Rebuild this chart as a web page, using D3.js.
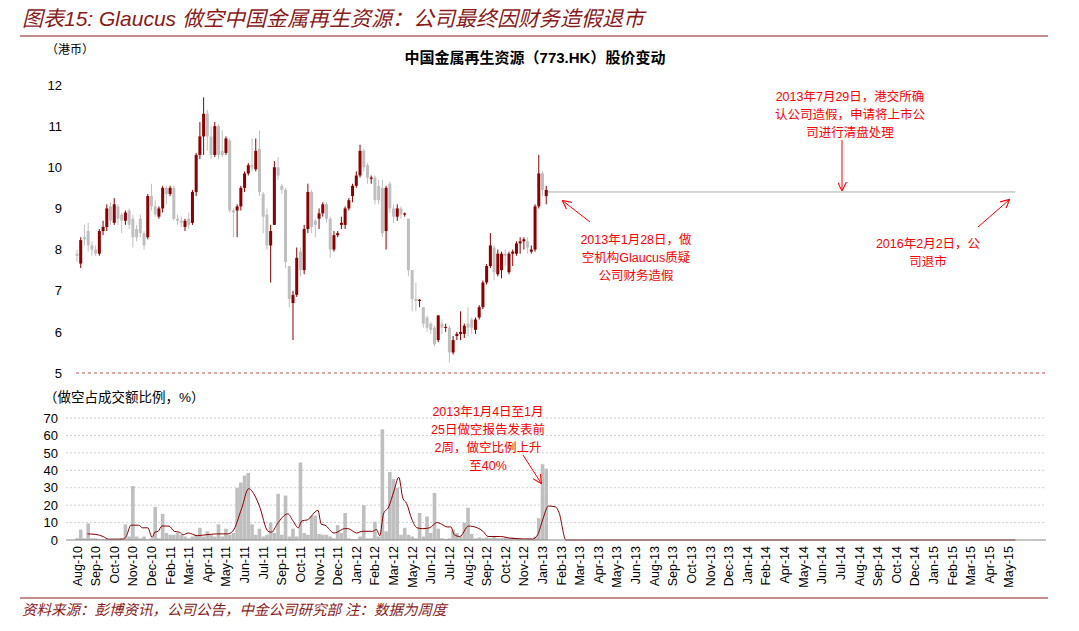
<!DOCTYPE html>
<html><head><meta charset="utf-8">
<script src="https://cdn.jsdelivr.net/npm/d3@7"></script>
<style>body{margin:0;background:#fff}svg{font-family:"Liberation Sans",Arial,"Noto Sans CJK SC",sans-serif}</style>
</head><body><svg id="c" width="1079" height="631"></svg>
<script>
// weekly candles [open, close, high, low], from week of 2010-08-02
const candles = [
[7.9,7.85,8.0,7.7],[7.66,8.23,8.3,7.55],[8.3,8.25,8.6,8.1],[8.45,8.1,8.65,7.95],[8.1,8.0,8.2,7.85],
[8.0,7.9,8.1,7.85],[7.9,8.45,8.5,7.85],[8.45,8.55,8.7,8.35],[8.55,9.0,9.1,8.45],[9.05,8.7,9.15,8.6],
[8.65,9.1,9.25,8.6],[9.05,8.75,9.1,8.6],[8.85,8.7,8.9,8.4],[8.7,8.9,8.95,8.6],[8.95,8.6,9.0,8.5],
[8.75,8.3,8.85,8.05],[8.5,8.3,8.6,8.2],[8.75,8.4,8.85,8.3],[8.4,8.1,8.45,8.0],[8.3,9.3,9.35,8.25],
[9.3,9.05,9.6,8.95],[9.05,8.85,9.2,8.8],[8.8,9.0,9.05,8.75],[9.0,9.5,9.55,8.9],[9.5,9.35,9.55,9.1],
[9.35,9.5,9.55,9.3],[9.5,8.75,9.55,8.7],[8.75,8.7,8.85,8.6],[8.7,8.65,8.8,8.55],[8.55,8.7,8.75,8.45],
[8.75,8.6,8.9,8.5],[8.65,9.4,9.45,8.6],[9.4,10.3,10.35,9.3],[10.3,10.75,11.1,10.2],[10.75,11.3,11.7,10.3],
[11.3,10.75,11.4,10.4],[10.75,10.3,11.0,10.2],[10.3,11.0,11.1,10.25],[11.0,10.3,11.05,10.2],[10.4,10.3,10.9,10.25],
[10.35,10.7,10.75,10.3],[10.65,8.95,10.7,8.9],[8.95,8.9,9.0,8.3],[8.95,9.05,9.1,8.3],[9.05,9.5,9.55,8.95],
[9.5,9.85,9.9,9.4],[9.85,10.05,10.1,9.8],[10.05,10.0,10.7,9.9],[9.95,10.4,10.7,9.9],[10.45,9.4,10.9,9.3],
[9.35,8.8,9.4,8.4],[8.85,8.1,9.0,8.0],[8.1,8.45,8.6,7.2],[8.6,10.0,10.15,8.6],[10.0,9.8,10.25,9.7],
[9.55,9.45,9.6,9.35],[9.45,7.7,9.5,7.55],[7.6,6.8,7.6,6.6],[6.7,6.9,7.0,5.8],[6.9,7.8,8.05,6.85],
[7.95,7.5,8.05,7.35],[7.5,8.5,8.6,7.4],[8.5,9.4,9.6,8.4],[9.4,8.55,9.45,8.4],[8.7,8.6,8.75,8.3],
[8.75,8.88,9.0,8.5],[8.88,9.1,9.15,8.8],[9.1,8.75,9.15,8.65],[8.75,8.0,8.8,7.8],[8.0,8.35,8.45,7.95],
[8.35,8.4,8.45,8.3],[8.6,8.65,8.8,8.5],[8.6,9.0,9.05,8.5],[9.0,9.2,9.25,8.95],[9.3,9.55,9.6,9.15],
[9.55,9.8,9.9,9.5],[9.8,10.4,10.55,9.75],[10.4,10.0,10.45,9.9],[10.05,9.75,10.1,9.6],[9.72,9.75,9.8,9.6],
[9.75,9.2,9.8,9.1],[9.55,9.2,9.7,9.1],[9.5,8.4,9.7,8.3],[8.45,9.5,9.55,8.0],[9.6,9.0,9.65,8.9],
[9.0,8.8,9.1,8.65],[8.8,9.0,9.1,8.7],[9.0,8.85,9.05,8.75],[8.85,8.88,8.9,8.8],[8.75,7.5,8.75,7.35],
[7.5,6.8,7.5,6.5],[6.8,6.75,7.2,6.5],[6.75,6.78,6.8,6.6],[6.6,6.2,6.6,6.1],[6.35,6.1,6.4,6.0],
[6.2,6.05,6.25,5.95],[6.1,5.7,6.15,5.65],[5.8,6.4,6.4,5.75],[6.2,6.1,6.3,5.95],[6.1,6.12,6.2,6.0],
[6.1,5.5,6.15,5.25],[5.5,5.8,5.9,5.45],[5.9,5.95,6.0,5.8],[5.95,6.0,6.5,5.8],[5.95,6.15,6.2,5.85],
[6.2,6.1,6.6,5.9],[6.3,6.1,6.35,5.95],[6.05,6.3,6.35,5.95],[6.35,6.6,6.65,6.3],[6.6,7.2,7.25,6.55],
[7.2,7.6,7.65,7.15],[7.6,8.1,8.4,7.55],[8.05,7.45,8.1,7.25],[7.4,7.9,8.0,7.35],[7.5,7.9,7.95,7.3],
[7.9,7.85,8.0,7.6],[7.45,7.9,7.95,7.4],[7.9,7.95,8.0,7.6],[7.9,8.15,8.2,7.85],[8.15,8.2,8.3,7.9],
[8.2,8.25,8.3,8.0],[8.2,8.05,8.3,7.9],[7.95,8.0,8.1,7.9],[8.0,9.05,9.1,7.95],[9.05,9.85,10.3,9.0],
[9.85,9.45,9.9,9.3],[9.3,9.45,9.55,9.1]
];
// suspended price line after last trade (week index range, price)
const suspendWeeks = [126, 252];
const suspendPrice = 9.4;

// short share of turnover, %, weekly
const shortPct = [1,6,1,9.5,1,1,0.5,0.5,0.5,0.5,0.5,0.5,1,9,2,31,2,1,2,0.5,1,19,1,15,4,3,3,4,3,2,
1,2,3,7,2,5,3,2,9,2,6.5,3,4,30,33,37,38.5,9,3,6.5,2,3,10,4,26.5,3,25.5,2,6.5,2,44.5,4,3,14,14,3.5,3,3,2,1,
8.5,4,15.5,1,0.5,0.5,2,20,1,1,10.5,2,63.5,5,39,35,30,3,7,3,2,1,15.5,2,13.5,4,27,6.5,1,0.5,1,6,4,2,10,18.5,
3.5,1,1.5,1,1.5,1,2,1,1,1.5,1,1.5,1,1,0.5,1,1,2,12.5,43.5,41];
// smoothed short ratio line: [week, %]
const shortLine = [[2.8,3.5],[5.1,3.2],[7,2],[8.5,0.5],[12.3,0.5],[13.2,2],[14.5,8.5],[16.6,8.5],[17.5,7],[19,7],
[20.2,1.5],[20.9,4.5],[21.8,5],[22.8,8],[24.7,8],[26.1,5],[27.5,4.5],[28.5,3],[29.9,4],[32.3,2.5],[34.7,3],
[37.5,3.5],[40.4,3.5],[41.8,5],[44.2,18],[46.1,29.5],[47,28],[48.9,20],[51.3,5],[52.3,4.5],[53.7,9],[56.6,15],
[58,11],[59.4,7],[60.4,11],[61.8,11.5],[64.7,17],[65.6,9],[66.6,8.5],[69,4],[69.9,4.5],[71.8,6.5],[72.8,6.5],
[75.1,4],[76.6,5],[79.4,5],[80.4,6],[81.3,2.5],[82.3,15],[83.7,19],[85.1,28],[86.4,36],[87.5,24],[88.5,21],
[89.9,12],[91.3,7],[92.8,6.5],[94.7,7],[96.6,10],[97.5,9.5],[99.4,7.5],[100.4,7.5],[101.3,3],[102.8,2],
[105.1,8],[107.5,7],[109,5],[110.4,2],[113.7,2],[116.6,1],[122.3,0.5],[123.7,3],[125.1,12],[126.6,19.5],
[128.5,19],[129.4,16],[131.3,0],[252,0]];

// category labels, one every 5 weeks
const tickLabels = ['Aug-10','Sep-10','Oct-10','Nov-10','Dec-10','Feb-11','Mar-11','Apr-11','May-11','Jun-11',
'Jul-11','Sep-11','Oct-11','Nov-11','Dec-11','Jan-12','Feb-12','Mar-12','May-12','Jun-12','Jul-12','Aug-12',
'Sep-12','Oct-12','Nov-12','Jan-13','Feb-13','Mar-13','Apr-13','May-13','Jun-13','Aug-13','Sep-13','Oct-13',
'Nov-13','Dec-13','Jan-14','Feb-14','Apr-14','May-14','Jun-14','Jul-14','Aug-14','Sep-14','Oct-14','Dec-14',
'Jan-15','Feb-15','Mar-15','Apr-15','May-15'];
const tickStep = 5;

const svg = d3.select('#c');
const red = '#8b0000', grey = '#bfbfbf', ann = '#ff0000';

const x = d3.scaleLinear().domain([0, 250]).range([77, 1008]);
const yP = d3.scaleLinear().domain([5, 12]).range([373, 85]);
const yS = d3.scaleLinear().domain([0, 70]).range([540, 418]);

////// Header and footer
svg.append('text').attr('x', 22).attr('y', 26).attr('fill', '#8b1a1a').attr('font-size', 21)
  .attr('font-style', 'italic').text('图表15: Glaucus 做空中国金属再生资源：公司最终因财务造假退市');
svg.append('line').attr('x1', 20).attr('x2', 1048).attr('y1', 36).attr('y2', 36).attr('stroke', '#8b1a1a');
svg.append('line').attr('x1', 20).attr('x2', 1048).attr('y1', 598).attr('y2', 598).attr('stroke', '#8b1a1a');
svg.append('text').attr('x', 22).attr('y', 615).attr('fill', '#8b1a1a').attr('font-size', 14.5)
  .attr('font-style', 'italic').text('资料来源：彭博资讯，公司公告，中金公司研究部    注：数据为周度');

svg.append('text').attr('x', 535).attr('y', 63).attr('text-anchor', 'middle').attr('font-size', 15)
  .attr('font-weight', 'bold').text('中国金属再生资源（773.HK）股价变动');
svg.append('text').attr('x', 46).attr('y', 54).attr('font-size', 12).text('（港币）');
svg.append('text').attr('x', 44).attr('y', 402).attr('font-size', 13.5).text('（做空占成交额比例，%）');

////// Price panel
const gP = svg.append('g').attr('transform', 'translate(72,0)');
gP.call(d3.axisLeft(yP).ticks(7).tickSize(0).tickPadding(10));
gP.select('.domain').remove();
gP.selectAll('text').attr('font-size', 13).attr('fill', '#000');

svg.append('line').attr('x1', 76).attr('x2', 1046).attr('y1', yP(5)).attr('y2', yP(5))
  .attr('stroke', '#c0504d').attr('stroke-dasharray', '3,3');

svg.append('line').attr('x1', x(suspendWeeks[0])).attr('x2', x(suspendWeeks[1]))
  .attr('y1', yP(suspendPrice)).attr('y2', yP(suspendPrice)).attr('stroke', '#aaa');

const cw = 3;
const cg = svg.append('g').selectAll('g').data(candles).join('g');
cg.append('line').attr('x1', (d, i) => x(i)).attr('x2', (d, i) => x(i))
  .attr('y1', (d) => yP(d[2])).attr('y2', (d) => yP(d[3]))
  .attr('stroke', (d) => (d[1] >= d[0] ? red : grey));
cg.append('rect').attr('x', (d, i) => x(i) - cw / 2).attr('width', cw)
  .attr('y', (d) => yP(Math.max(d[0], d[1])))
  .attr('height', (d) => Math.max(1, Math.abs(yP(d[0]) - yP(d[1]))))
  .attr('fill', (d) => (d[1] >= d[0] ? red : grey));

////// Short ratio panel
const gS = svg.append('g').attr('transform', 'translate(62,0)');
gS.call(d3.axisLeft(yS).tickValues(d3.range(0, 71, 10)).tickSize(0).tickPadding(4));
gS.select('.domain').remove();
gS.selectAll('text').attr('font-size', 13).attr('fill', '#000');
svg.append('g').selectAll('line').data(d3.range(10, 71, 10)).join('line')
  .attr('x1', 66).attr('x2', 1046).attr('y1', (d) => yS(d)).attr('y2', (d) => yS(d))
  .attr('stroke', '#d0d0d0').attr('stroke-dasharray', '2,2');

svg.append('g').selectAll('rect').data(shortPct).join('rect')
  .attr('x', (d, i) => x(i) - 1.8).attr('width', 3.6)
  .attr('y', (d) => yS(d)).attr('height', (d) => yS(0) - yS(d)).attr('fill', grey);

svg.append('path').datum(shortLine).attr('fill', 'none').attr('stroke', red).attr('stroke-width', 1)
  .attr('d', d3.line().x((d) => x(d[0])).y((d) => yS(d[1])).curve(d3.curveMonotoneX));

svg.append('line').attr('x1', 66).attr('x2', 1046).attr('y1', yS(0)).attr('y2', yS(0)).attr('stroke', '#888');

svg.append('g').selectAll('text').data(tickLabels).join('text')
  .attr('transform', (d, i) => `translate(${x(i * tickStep) + 4.5},546) rotate(-90)`)
  .attr('text-anchor', 'end').attr('font-size', 12.5).text((d) => d);

////// Annotations
svg.append('defs').append('marker').attr('id', 'arr').attr('viewBox', '0 0 10 10')
  .attr('refX', 9).attr('refY', 5).attr('markerWidth', 9).attr('markerHeight', 9).attr('orient', 'auto')
  .append('path').attr('d', 'M0,0L10,5L0,10').attr('fill', 'none').attr('stroke', ann).attr('stroke-width', 1.2);

const notes = [
  { x: 850, y: 101, lines: ['2013年7月29日，港交所确', '认公司造假，申请将上市公', '司进行清盘处理'], arrow: [842, 140, 842, 190] },
  { x: 636, y: 244, lines: ['2013年1月28日，做', '空机构Glaucus质疑', '公司财务造假'], arrow: [590, 222, 563, 201] },
  { x: 928, y: 248, lines: ['2016年2月2日，公', '司退市'], arrow: [978, 227, 1009, 200] },
  { x: 488, y: 416, lines: ['2013年1月4日至1月', '25日做空报告发表前', '2周，做空比例上升', '至40%'], arrow: [523, 455, 541, 483] },
];
notes.forEach((n) => {
  n.lines.forEach((t, k) => {
    svg.append('text').attr('x', n.x).attr('y', n.y + k * 18).attr('text-anchor', 'middle')
      .attr('font-size', 12.5).attr('fill', ann).text(t);
  });
  svg.append('line').attr('x1', n.arrow[0]).attr('y1', n.arrow[1]).attr('x2', n.arrow[2]).attr('y2', n.arrow[3])
    .attr('stroke', ann).attr('stroke-width', 1).attr('marker-end', 'url(#arr)');
});
</script></body></html>
